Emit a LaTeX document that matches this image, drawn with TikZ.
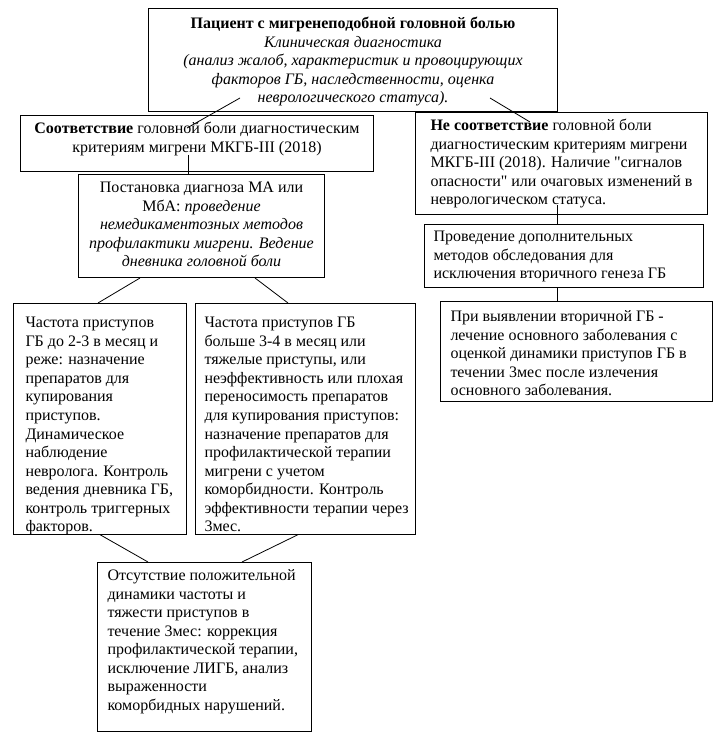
\documentclass[tikz,border=0pt]{standalone}
\usepackage{fontspec}
\setmainfont{Liberation Serif}[Ligatures=TeXOff]
\newcommand\bt[5]{\parbox[c][#2][t]{#1}{\vspace*{#3}#4\rule{0pt}{9pt}#5}}
\begin{document}
\begin{tikzpicture}[x=0.75pt,y=-0.75pt,
  font=\fontsize{12}{13.9}\selectfont,
  box/.style={draw, line width=0.75pt, fill=white, inner ysep=0pt, anchor=north west},
  link/.style={draw, line width=0.6pt}]
\useasboundingbox (0,0) rectangle (717,738);
\node[box, inner xsep=5pt] (top) at (148,8)
  {\bt{296.75pt}{77.25pt}{6pt}{\centering}{\textbf{Пациент с мигренеподобной головной болью}\\
   \textit{Клиническая диагностика}\\
   \textit{(анализ жалоб, характеристик и провоцирующих}\\
   \textit{факторов ГБ, наследственности, оценка}\\
   \textit{неврологического статуса).}}};
\node[box, inner xsep=5pt] (c1) at (20,115)
  {\bt{254.75pt}{42pt}{4.5pt}{\centering}{\textbf{Соответствие} головной боли диагностическим\\
   критериям мигрени МКГБ-III (2018)}};
\node[box, inner xsep=5pt] (c2) at (78,174)
  {\bt{174.5pt}{77.25pt}{4.5pt}{\centering}{Постановка диагноза МА или\\
   МбА: \textit{проведение}\\
   \textit{немедикаментозных методов}\\
   \textit{профилактики мигрени. Ведение}\\
   \textit{дневника головной боли}}};
\node[box, inner xsep=11.25pt] (n1) at (415,112)
  {\bt{196.5pt}{76.5pt}{4.5pt}{\raggedright}{\textbf{Не соответствие} головной боли\\
   диагностическим критериям мигрени\\
   МКГБ-III (2018). Наличие "сигналов\\
   опасности" или очаговых изменений в\\
   неврологическом статуса.}};
\node[box, inner xsep=6.75pt] (n2) at (424,224)
  {\bt{195.75pt}{47.25pt}{3.75pt}{\raggedright}{Проведение дополнительных\\
   методов обследования для\\
   исключения вторичного генеза ГБ}};
\node[box, inner xsep=7.5pt] (n3) at (440,301)
  {\bt{189pt}{75pt}{6pt}{\raggedright}{При выявлении вторичной ГБ -\\
   лечение основного заболевания с\\
   оценкой динамики приступов ГБ в\\
   течении 3мес после излечения\\
   основного заболевания.}};
\node[box, inner xsep=9pt] (f1) at (13,303)
  {\bt{111.75pt}{173pt}{9.25pt}{\raggedright}{Частота приступов\\
   ГБ до 2-3 в месяц и\\
   реже: назначение\\
   препаратов для\\
   купирования\\
   приступов.\\
   Динамическое\\
   наблюдение\\
   невролога. Контроль\\
   ведения дневника ГБ,\\
   контроль триггерных\\
   факторов.}};
\node[box, inner xsep=6.75pt] (f2) at (195,303)
  {\bt{151.5pt}{173pt}{9.25pt}{\raggedright}{Частота приступов ГБ\\
   больше 3-4 в месяц или\\
   тяжелые приступы, или\\
   неэффективность или плохая\\
   переносимость препаратов\\
   для купирования приступов:\\
   назначение препаратов для\\
   профилактической терапии\\
   мигрени с учетом\\
   коморбидности. Контроль\\
   \mbox{эффективности терапии через}\\
   3мес.}};
\node[box, inner xsep=7.5pt] (last) at (97,562)
  {\bt{145.5pt}{126.75pt}{4.5pt}{\raggedright}{Отсутствие положительной\\
   динамики частоты и\\
   тяжести приступов в\\
   течение 3мес: коррекция\\
   профилактической терапии,\\
   исключение ЛИГБ, анализ\\
   выраженности\\
   коморбидных нарушений.}};
\draw[link] ([shift={(92,-14)}]top.south west) -- ([shift={(167,13)}]c1.north west);
\draw[link] ([shift={(342,-14)}]top.south west) -- ([shift={(115,10)}]n1.north west);
\draw[link] ([shift={(168,40)}]c1.north west) -- ([shift={(110,0)}]c2.north west);
\draw[link] ([shift={(142,93)}]n1.north west) -- ([shift={(133,0)}]n2.north west);
\draw[link] ([shift={(133,0)}]n2.south west) -- ([shift={(117,0)}]n3.north west);
\draw[link] ([shift={(62,0)}]c2.south west) -- ([shift={(85,0)}]f1.north west);
\draw[link] ([shift={(177,0)}]c2.south west) -- ([shift={(93,0)}]f2.north west);
\draw[link] ([shift={(87,0)}]f1.south west) -- ([shift={(51,0)}]last.north west);
\draw[link] ([shift={(103,0)}]f2.south west) -- ([shift={(145,0)}]last.north west);
\end{tikzpicture}
\end{document}
